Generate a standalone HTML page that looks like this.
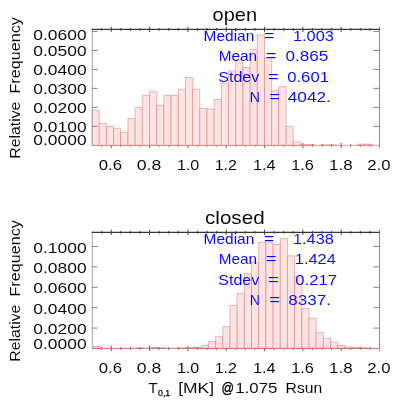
<!DOCTYPE html>
<html><head><meta charset="utf-8"><title>hist</title>
<style>
html,body{margin:0;padding:0;background:#fff;}
svg{display:block;will-change:transform;}
text{font-family:"Liberation Sans", sans-serif;stroke:#fff;stroke-width:0.05px;}
</style></head><body>
<svg width="407" height="407" viewBox="0 0 407 407">
<rect width="407" height="407" fill="#fff"/>
<g stroke="#505050" stroke-width="0.9">
<line x1="101.68" y1="144.0" x2="101.68" y2="146.8"/>
<line x1="111.26" y1="142.70000000000002" x2="111.26" y2="148.1"/>
<line x1="120.84" y1="144.0" x2="120.84" y2="146.8"/>
<line x1="130.42" y1="144.0" x2="130.42" y2="146.8"/>
<line x1="140.00" y1="144.0" x2="140.00" y2="146.8"/>
<line x1="149.58" y1="142.70000000000002" x2="149.58" y2="148.1"/>
<line x1="159.16" y1="144.0" x2="159.16" y2="146.8"/>
<line x1="168.74" y1="144.0" x2="168.74" y2="146.8"/>
<line x1="178.32" y1="144.0" x2="178.32" y2="146.8"/>
<line x1="187.90" y1="142.70000000000002" x2="187.90" y2="148.1"/>
<line x1="197.48" y1="144.0" x2="197.48" y2="146.8"/>
<line x1="207.06" y1="144.0" x2="207.06" y2="146.8"/>
<line x1="216.64" y1="144.0" x2="216.64" y2="146.8"/>
<line x1="226.22" y1="142.70000000000002" x2="226.22" y2="148.1"/>
<line x1="235.80" y1="144.0" x2="235.80" y2="146.8"/>
<line x1="245.38" y1="144.0" x2="245.38" y2="146.8"/>
<line x1="254.96" y1="144.0" x2="254.96" y2="146.8"/>
<line x1="264.54" y1="142.70000000000002" x2="264.54" y2="148.1"/>
<line x1="274.12" y1="144.0" x2="274.12" y2="146.8"/>
<line x1="283.70" y1="144.0" x2="283.70" y2="146.8"/>
<line x1="293.28" y1="144.0" x2="293.28" y2="146.8"/>
<line x1="302.86" y1="142.70000000000002" x2="302.86" y2="148.1"/>
<line x1="312.44" y1="144.0" x2="312.44" y2="146.8"/>
<line x1="322.02" y1="144.0" x2="322.02" y2="146.8"/>
<line x1="331.60" y1="144.0" x2="331.60" y2="146.8"/>
<line x1="341.18" y1="142.70000000000002" x2="341.18" y2="148.1"/>
<line x1="350.76" y1="144.0" x2="350.76" y2="146.8"/>
<line x1="360.34" y1="144.0" x2="360.34" y2="146.8"/>
<line x1="369.92" y1="144.0" x2="369.92" y2="146.8"/>
</g>
<g fill="#ffe4e4" stroke="rgba(205,70,70,0.36)" stroke-width="1">
<rect x="92.05" y="110.20" width="7.18" height="35.20"/>
<rect x="99.23" y="123.40" width="7.18" height="22.00"/>
<rect x="106.42" y="126.40" width="7.18" height="19.00"/>
<rect x="113.60" y="128.30" width="7.18" height="17.10"/>
<rect x="120.79" y="132.30" width="7.18" height="13.10"/>
<rect x="127.97" y="118.50" width="7.18" height="26.90"/>
<rect x="135.16" y="107.40" width="7.18" height="38.00"/>
<rect x="142.34" y="95.40" width="7.18" height="50.00"/>
<rect x="149.53" y="91.60" width="7.18" height="53.80"/>
<rect x="156.71" y="105.20" width="7.18" height="40.20"/>
<rect x="163.90" y="95.40" width="7.18" height="50.00"/>
<rect x="171.08" y="95.40" width="7.18" height="50.00"/>
<rect x="178.27" y="89.30" width="7.18" height="56.10"/>
<rect x="185.45" y="77.40" width="7.18" height="68.00"/>
<rect x="192.64" y="89.30" width="7.18" height="56.10"/>
<rect x="199.82" y="108.30" width="7.18" height="37.10"/>
<rect x="207.01" y="109.20" width="7.18" height="36.20"/>
<rect x="214.19" y="99.50" width="7.18" height="45.90"/>
<rect x="221.38" y="83.10" width="7.18" height="62.30"/>
<rect x="228.56" y="70.80" width="7.18" height="74.60"/>
<rect x="235.75" y="59.90" width="7.18" height="85.50"/>
<rect x="242.94" y="67.60" width="7.18" height="77.80"/>
<rect x="250.12" y="49.60" width="7.18" height="95.80"/>
<rect x="257.31" y="34.90" width="7.18" height="110.50"/>
<rect x="264.49" y="57.80" width="7.18" height="87.60"/>
<rect x="271.68" y="90.80" width="7.18" height="54.60"/>
<rect x="278.86" y="86.50" width="7.18" height="58.90"/>
<rect x="286.04" y="126.40" width="7.18" height="19.00"/>
<rect x="293.23" y="141.80" width="7.18" height="3.60"/>
<rect x="300.41" y="144.60" width="7.18" height="0.80" stroke="rgba(205,70,70,0.42)"/>
<rect x="307.60" y="144.60" width="7.18" height="0.80" stroke="rgba(205,70,70,0.42)"/>
<rect x="321.97" y="144.90" width="7.18" height="0.50" stroke="rgba(205,70,70,0.42)"/>
<rect x="329.15" y="144.90" width="7.18" height="0.50" stroke="rgba(205,70,70,0.42)"/>
<rect x="357.89" y="144.20" width="7.18" height="1.20" stroke="rgba(205,70,70,0.42)"/>
<rect x="365.08" y="144.20" width="7.18" height="1.20" stroke="rgba(205,70,70,0.42)"/>
</g>
<line x1="92.10" y1="145.4" x2="379.50" y2="145.4" stroke="rgb(218,130,130)" stroke-width="0.8"/>
<g stroke="#787878" stroke-width="0.9" fill="none">
<line x1="92.30" y1="28.4" x2="92.30" y2="146.4" stroke="#989898"/>
<line x1="379.50" y1="26.7" x2="379.50" y2="148.1" stroke="#828282"/>
<line x1="92.10" y1="126.4" x2="97.70" y2="126.4"/>
<line x1="379.50" y1="126.4" x2="373.30" y2="126.4"/>
<line x1="92.10" y1="107.4" x2="97.70" y2="107.4"/>
<line x1="379.50" y1="107.4" x2="373.30" y2="107.4"/>
<line x1="92.10" y1="88.4" x2="97.70" y2="88.4"/>
<line x1="379.50" y1="88.4" x2="373.30" y2="88.4"/>
<line x1="92.10" y1="69.4" x2="97.70" y2="69.4"/>
<line x1="379.50" y1="69.4" x2="373.30" y2="69.4"/>
<line x1="92.10" y1="50.4" x2="97.70" y2="50.4"/>
<line x1="379.50" y1="50.4" x2="373.30" y2="50.4"/>
<line x1="92.10" y1="31.4" x2="97.70" y2="31.4"/>
<line x1="379.50" y1="31.4" x2="373.30" y2="31.4"/>
</g>
<g stroke="#383838" stroke-width="1.2">
<line x1="91.80" y1="29.4" x2="379.80" y2="29.4"/>
</g>
<g stroke="#333" stroke-width="0.9">
<line x1="101.68" y1="28.0" x2="101.68" y2="30.799999999999997"/>
<line x1="111.26" y1="26.7" x2="111.26" y2="32.1"/>
<line x1="120.84" y1="28.0" x2="120.84" y2="30.799999999999997"/>
<line x1="130.42" y1="28.0" x2="130.42" y2="30.799999999999997"/>
<line x1="140.00" y1="28.0" x2="140.00" y2="30.799999999999997"/>
<line x1="149.58" y1="26.7" x2="149.58" y2="32.1"/>
<line x1="159.16" y1="28.0" x2="159.16" y2="30.799999999999997"/>
<line x1="168.74" y1="28.0" x2="168.74" y2="30.799999999999997"/>
<line x1="178.32" y1="28.0" x2="178.32" y2="30.799999999999997"/>
<line x1="187.90" y1="26.7" x2="187.90" y2="32.1"/>
<line x1="197.48" y1="28.0" x2="197.48" y2="30.799999999999997"/>
<line x1="207.06" y1="28.0" x2="207.06" y2="30.799999999999997"/>
<line x1="216.64" y1="28.0" x2="216.64" y2="30.799999999999997"/>
<line x1="226.22" y1="26.7" x2="226.22" y2="32.1"/>
<line x1="235.80" y1="28.0" x2="235.80" y2="30.799999999999997"/>
<line x1="245.38" y1="28.0" x2="245.38" y2="30.799999999999997"/>
<line x1="254.96" y1="28.0" x2="254.96" y2="30.799999999999997"/>
<line x1="264.54" y1="26.7" x2="264.54" y2="32.1"/>
<line x1="274.12" y1="28.0" x2="274.12" y2="30.799999999999997"/>
<line x1="283.70" y1="28.0" x2="283.70" y2="30.799999999999997"/>
<line x1="293.28" y1="28.0" x2="293.28" y2="30.799999999999997"/>
<line x1="302.86" y1="26.7" x2="302.86" y2="32.1"/>
<line x1="312.44" y1="28.0" x2="312.44" y2="30.799999999999997"/>
<line x1="322.02" y1="28.0" x2="322.02" y2="30.799999999999997"/>
<line x1="331.60" y1="28.0" x2="331.60" y2="30.799999999999997"/>
<line x1="341.18" y1="26.7" x2="341.18" y2="32.1"/>
<line x1="350.76" y1="28.0" x2="350.76" y2="30.799999999999997"/>
<line x1="360.34" y1="28.0" x2="360.34" y2="30.799999999999997"/>
<line x1="369.92" y1="28.0" x2="369.92" y2="30.799999999999997"/>
</g>
<text x="212.50" y="20.60" font-size="19.0" fill="#000" textLength="44.60" lengthAdjust="spacingAndGlyphs">open</text>
<text x="33.30" y="145.20" font-size="15.3" fill="#000" textLength="53.30" lengthAdjust="spacingAndGlyphs">0.0000</text>
<text x="33.30" y="132.40" font-size="15.3" fill="#000" textLength="53.30" lengthAdjust="spacingAndGlyphs">0.0100</text>
<text x="33.30" y="113.40" font-size="15.3" fill="#000" textLength="53.30" lengthAdjust="spacingAndGlyphs">0.0200</text>
<text x="33.30" y="94.40" font-size="15.3" fill="#000" textLength="53.30" lengthAdjust="spacingAndGlyphs">0.0300</text>
<text x="33.30" y="75.40" font-size="15.3" fill="#000" textLength="53.30" lengthAdjust="spacingAndGlyphs">0.0400</text>
<text x="33.30" y="56.40" font-size="15.3" fill="#000" textLength="53.30" lengthAdjust="spacingAndGlyphs">0.0500</text>
<text x="33.30" y="40.10" font-size="15.3" fill="#000" textLength="53.30" lengthAdjust="spacingAndGlyphs">0.0600</text>
<text x="98.80" y="170.30" font-size="15.3" fill="#000" textLength="23.30" lengthAdjust="spacingAndGlyphs">0.6</text>
<text x="136.70" y="170.30" font-size="15.3" fill="#000" textLength="24.50" lengthAdjust="spacingAndGlyphs">0.8</text>
<text x="176.90" y="170.30" font-size="15.3" fill="#000" textLength="22.40" lengthAdjust="spacingAndGlyphs">1.0</text>
<text x="214.70" y="170.30" font-size="15.3" fill="#000" textLength="22.20" lengthAdjust="spacingAndGlyphs">1.2</text>
<text x="252.90" y="170.30" font-size="15.3" fill="#000" textLength="22.70" lengthAdjust="spacingAndGlyphs">1.4</text>
<text x="291.20" y="170.30" font-size="15.3" fill="#000" textLength="22.70" lengthAdjust="spacingAndGlyphs">1.6</text>
<text x="329.10" y="170.30" font-size="15.3" fill="#000" textLength="23.50" lengthAdjust="spacingAndGlyphs">1.8</text>
<text x="367.30" y="170.30" font-size="15.3" fill="#000" textLength="23.30" lengthAdjust="spacingAndGlyphs">2.0</text>
<text transform="translate(20.4,158.80) rotate(-90)" font-size="15.3" textLength="57.2" lengthAdjust="spacingAndGlyphs">Relative</text>
<text transform="translate(20.4,93.50) rotate(-90)" font-size="15.3" textLength="76.3" lengthAdjust="spacingAndGlyphs">Frequency</text>
<text x="203.60" y="41.00" font-size="15.3" fill="#0000ff" textLength="50.70" lengthAdjust="spacingAndGlyphs">Median</text>
<text x="264.10" y="41.00" font-size="15.3" fill="#0000ff" textLength="10.30" lengthAdjust="spacingAndGlyphs">=</text>
<text x="292.90" y="41.00" font-size="15.3" fill="#0000ff" textLength="41.00" lengthAdjust="spacingAndGlyphs">1.003</text>
<text x="218.70" y="61.40" font-size="15.3" fill="#0000ff" textLength="38.40" lengthAdjust="spacingAndGlyphs">Mean</text>
<text x="265.80" y="61.40" font-size="15.3" fill="#0000ff" textLength="10.80" lengthAdjust="spacingAndGlyphs">=</text>
<text x="285.40" y="61.40" font-size="15.3" fill="#0000ff" textLength="43.00" lengthAdjust="spacingAndGlyphs">0.865</text>
<text x="218.30" y="82.00" font-size="15.3" fill="#0000ff" textLength="40.90" lengthAdjust="spacingAndGlyphs">Stdev</text>
<text x="268.00" y="82.00" font-size="15.3" fill="#0000ff" textLength="10.80" lengthAdjust="spacingAndGlyphs">=</text>
<text x="287.20" y="82.00" font-size="15.3" fill="#0000ff" textLength="41.80" lengthAdjust="spacingAndGlyphs">0.601</text>
<text x="249.80" y="102.40" font-size="15.3" fill="#0000ff" textLength="10.20" lengthAdjust="spacingAndGlyphs">N</text>
<text x="269.20" y="102.40" font-size="15.3" fill="#0000ff" textLength="10.80" lengthAdjust="spacingAndGlyphs">=</text>
<text x="287.80" y="102.40" font-size="15.3" fill="#0000ff" textLength="43.10" lengthAdjust="spacingAndGlyphs">4042.</text>
<g stroke="#505050" stroke-width="0.9">
<line x1="101.68" y1="347.0" x2="101.68" y2="349.79999999999995"/>
<line x1="111.26" y1="345.7" x2="111.26" y2="351.09999999999997"/>
<line x1="120.84" y1="347.0" x2="120.84" y2="349.79999999999995"/>
<line x1="130.42" y1="347.0" x2="130.42" y2="349.79999999999995"/>
<line x1="140.00" y1="347.0" x2="140.00" y2="349.79999999999995"/>
<line x1="149.58" y1="345.7" x2="149.58" y2="351.09999999999997"/>
<line x1="159.16" y1="347.0" x2="159.16" y2="349.79999999999995"/>
<line x1="168.74" y1="347.0" x2="168.74" y2="349.79999999999995"/>
<line x1="178.32" y1="347.0" x2="178.32" y2="349.79999999999995"/>
<line x1="187.90" y1="345.7" x2="187.90" y2="351.09999999999997"/>
<line x1="197.48" y1="347.0" x2="197.48" y2="349.79999999999995"/>
<line x1="207.06" y1="347.0" x2="207.06" y2="349.79999999999995"/>
<line x1="216.64" y1="347.0" x2="216.64" y2="349.79999999999995"/>
<line x1="226.22" y1="345.7" x2="226.22" y2="351.09999999999997"/>
<line x1="235.80" y1="347.0" x2="235.80" y2="349.79999999999995"/>
<line x1="245.38" y1="347.0" x2="245.38" y2="349.79999999999995"/>
<line x1="254.96" y1="347.0" x2="254.96" y2="349.79999999999995"/>
<line x1="264.54" y1="345.7" x2="264.54" y2="351.09999999999997"/>
<line x1="274.12" y1="347.0" x2="274.12" y2="349.79999999999995"/>
<line x1="283.70" y1="347.0" x2="283.70" y2="349.79999999999995"/>
<line x1="293.28" y1="347.0" x2="293.28" y2="349.79999999999995"/>
<line x1="302.86" y1="345.7" x2="302.86" y2="351.09999999999997"/>
<line x1="312.44" y1="347.0" x2="312.44" y2="349.79999999999995"/>
<line x1="322.02" y1="347.0" x2="322.02" y2="349.79999999999995"/>
<line x1="331.60" y1="347.0" x2="331.60" y2="349.79999999999995"/>
<line x1="341.18" y1="345.7" x2="341.18" y2="351.09999999999997"/>
<line x1="350.76" y1="347.0" x2="350.76" y2="349.79999999999995"/>
<line x1="360.34" y1="347.0" x2="360.34" y2="349.79999999999995"/>
<line x1="369.92" y1="347.0" x2="369.92" y2="349.79999999999995"/>
</g>
<g fill="#ffe4e4" stroke="rgba(205,70,70,0.36)" stroke-width="1">
<rect x="93.50" y="346.60" width="7.18" height="1.80" stroke="rgba(205,70,70,0.42)"/>
<rect x="136.61" y="347.80" width="7.18" height="0.60" stroke="rgba(205,70,70,0.42)"/>
<rect x="150.98" y="347.60" width="7.18" height="0.80" stroke="rgba(205,70,70,0.42)"/>
<rect x="158.16" y="347.60" width="7.18" height="0.80" stroke="rgba(205,70,70,0.42)"/>
<rect x="179.72" y="347.80" width="7.18" height="0.60" stroke="rgba(205,70,70,0.42)"/>
<rect x="186.91" y="347.60" width="7.18" height="0.80" stroke="rgba(205,70,70,0.42)"/>
<rect x="194.09" y="347.50" width="7.18" height="0.90" stroke="rgba(205,70,70,0.42)"/>
<rect x="201.27" y="345.40" width="7.18" height="3.00"/>
<rect x="208.46" y="341.60" width="7.18" height="6.80"/>
<rect x="215.64" y="336.70" width="7.18" height="11.70"/>
<rect x="222.83" y="326.70" width="7.18" height="21.70"/>
<rect x="230.01" y="305.50" width="7.18" height="42.90"/>
<rect x="237.20" y="293.60" width="7.18" height="54.80"/>
<rect x="244.38" y="273.60" width="7.18" height="74.80"/>
<rect x="251.57" y="262.20" width="7.18" height="86.20"/>
<rect x="258.75" y="242.30" width="7.18" height="106.10"/>
<rect x="265.94" y="242.30" width="7.18" height="106.10"/>
<rect x="273.12" y="244.40" width="7.18" height="104.00"/>
<rect x="280.31" y="238.50" width="7.18" height="109.90"/>
<rect x="287.50" y="255.80" width="7.18" height="92.60"/>
<rect x="294.68" y="277.00" width="7.18" height="71.40"/>
<rect x="301.87" y="308.30" width="7.18" height="40.10"/>
<rect x="309.05" y="318.40" width="7.18" height="30.00"/>
<rect x="316.24" y="332.60" width="7.18" height="15.80"/>
<rect x="323.42" y="338.40" width="7.18" height="10.00"/>
<rect x="330.61" y="342.10" width="7.18" height="6.30"/>
<rect x="337.79" y="345.50" width="7.18" height="2.90"/>
<rect x="344.98" y="347.00" width="7.18" height="1.40" stroke="rgba(205,70,70,0.42)"/>
<rect x="352.16" y="347.60" width="7.18" height="0.80" stroke="rgba(205,70,70,0.42)"/>
<rect x="359.34" y="347.90" width="7.18" height="0.50" stroke="rgba(205,70,70,0.42)"/>
</g>
<line x1="92.10" y1="348.4" x2="379.50" y2="348.4" stroke="rgb(208,100,100)" stroke-width="0.9"/>
<g stroke="#787878" stroke-width="0.9" fill="none">
<line x1="92.30" y1="231.3" x2="92.30" y2="349.4" stroke="#989898"/>
<line x1="379.50" y1="229.60000000000002" x2="379.50" y2="351.09999999999997" stroke="#828282"/>
<line x1="92.10" y1="328.1" x2="97.70" y2="328.1"/>
<line x1="379.50" y1="328.1" x2="373.30" y2="328.1"/>
<line x1="92.10" y1="307.7" x2="97.70" y2="307.7"/>
<line x1="379.50" y1="307.7" x2="373.30" y2="307.7"/>
<line x1="92.10" y1="287.3" x2="97.70" y2="287.3"/>
<line x1="379.50" y1="287.3" x2="373.30" y2="287.3"/>
<line x1="92.10" y1="266.9" x2="97.70" y2="266.9"/>
<line x1="379.50" y1="266.9" x2="373.30" y2="266.9"/>
<line x1="92.10" y1="246.5" x2="97.70" y2="246.5"/>
<line x1="379.50" y1="246.5" x2="373.30" y2="246.5"/>
</g>
<g stroke="#383838" stroke-width="1.2">
<line x1="91.80" y1="232.3" x2="379.80" y2="232.3"/>
</g>
<g stroke="#333" stroke-width="0.9">
<line x1="101.68" y1="230.9" x2="101.68" y2="233.70000000000002"/>
<line x1="111.26" y1="229.60000000000002" x2="111.26" y2="235.0"/>
<line x1="120.84" y1="230.9" x2="120.84" y2="233.70000000000002"/>
<line x1="130.42" y1="230.9" x2="130.42" y2="233.70000000000002"/>
<line x1="140.00" y1="230.9" x2="140.00" y2="233.70000000000002"/>
<line x1="149.58" y1="229.60000000000002" x2="149.58" y2="235.0"/>
<line x1="159.16" y1="230.9" x2="159.16" y2="233.70000000000002"/>
<line x1="168.74" y1="230.9" x2="168.74" y2="233.70000000000002"/>
<line x1="178.32" y1="230.9" x2="178.32" y2="233.70000000000002"/>
<line x1="187.90" y1="229.60000000000002" x2="187.90" y2="235.0"/>
<line x1="197.48" y1="230.9" x2="197.48" y2="233.70000000000002"/>
<line x1="207.06" y1="230.9" x2="207.06" y2="233.70000000000002"/>
<line x1="216.64" y1="230.9" x2="216.64" y2="233.70000000000002"/>
<line x1="226.22" y1="229.60000000000002" x2="226.22" y2="235.0"/>
<line x1="235.80" y1="230.9" x2="235.80" y2="233.70000000000002"/>
<line x1="245.38" y1="230.9" x2="245.38" y2="233.70000000000002"/>
<line x1="254.96" y1="230.9" x2="254.96" y2="233.70000000000002"/>
<line x1="264.54" y1="229.60000000000002" x2="264.54" y2="235.0"/>
<line x1="274.12" y1="230.9" x2="274.12" y2="233.70000000000002"/>
<line x1="283.70" y1="230.9" x2="283.70" y2="233.70000000000002"/>
<line x1="293.28" y1="230.9" x2="293.28" y2="233.70000000000002"/>
<line x1="302.86" y1="229.60000000000002" x2="302.86" y2="235.0"/>
<line x1="312.44" y1="230.9" x2="312.44" y2="233.70000000000002"/>
<line x1="322.02" y1="230.9" x2="322.02" y2="233.70000000000002"/>
<line x1="331.60" y1="230.9" x2="331.60" y2="233.70000000000002"/>
<line x1="341.18" y1="229.60000000000002" x2="341.18" y2="235.0"/>
<line x1="350.76" y1="230.9" x2="350.76" y2="233.70000000000002"/>
<line x1="360.34" y1="230.9" x2="360.34" y2="233.70000000000002"/>
<line x1="369.92" y1="230.9" x2="369.92" y2="233.70000000000002"/>
</g>
<text x="205.00" y="223.50" font-size="19.0" fill="#000" textLength="59.60" lengthAdjust="spacingAndGlyphs">closed</text>
<text x="33.30" y="349.10" font-size="15.3" fill="#000" textLength="53.30" lengthAdjust="spacingAndGlyphs">0.0000</text>
<text x="33.30" y="334.10" font-size="15.3" fill="#000" textLength="53.30" lengthAdjust="spacingAndGlyphs">0.0200</text>
<text x="33.30" y="313.70" font-size="15.3" fill="#000" textLength="53.30" lengthAdjust="spacingAndGlyphs">0.0400</text>
<text x="33.30" y="293.30" font-size="15.3" fill="#000" textLength="53.30" lengthAdjust="spacingAndGlyphs">0.0600</text>
<text x="33.30" y="272.90" font-size="15.3" fill="#000" textLength="53.30" lengthAdjust="spacingAndGlyphs">0.0800</text>
<text x="33.30" y="252.50" font-size="15.3" fill="#000" textLength="53.30" lengthAdjust="spacingAndGlyphs">0.1000</text>
<text x="98.80" y="373.30" font-size="15.3" fill="#000" textLength="23.30" lengthAdjust="spacingAndGlyphs">0.6</text>
<text x="136.70" y="373.30" font-size="15.3" fill="#000" textLength="24.50" lengthAdjust="spacingAndGlyphs">0.8</text>
<text x="176.90" y="373.30" font-size="15.3" fill="#000" textLength="22.40" lengthAdjust="spacingAndGlyphs">1.0</text>
<text x="214.70" y="373.30" font-size="15.3" fill="#000" textLength="22.20" lengthAdjust="spacingAndGlyphs">1.2</text>
<text x="252.90" y="373.30" font-size="15.3" fill="#000" textLength="22.70" lengthAdjust="spacingAndGlyphs">1.4</text>
<text x="291.20" y="373.30" font-size="15.3" fill="#000" textLength="22.70" lengthAdjust="spacingAndGlyphs">1.6</text>
<text x="329.10" y="373.30" font-size="15.3" fill="#000" textLength="23.50" lengthAdjust="spacingAndGlyphs">1.8</text>
<text x="367.30" y="373.30" font-size="15.3" fill="#000" textLength="23.30" lengthAdjust="spacingAndGlyphs">2.0</text>
<text transform="translate(20.4,361.80) rotate(-90)" font-size="15.3" textLength="57.2" lengthAdjust="spacingAndGlyphs">Relative</text>
<text transform="translate(20.4,296.50) rotate(-90)" font-size="15.3" textLength="76.3" lengthAdjust="spacingAndGlyphs">Frequency</text>
<text x="203.60" y="243.90" font-size="15.3" fill="#0000ff" textLength="50.70" lengthAdjust="spacingAndGlyphs">Median</text>
<text x="264.10" y="243.90" font-size="15.3" fill="#0000ff" textLength="10.30" lengthAdjust="spacingAndGlyphs">=</text>
<text x="292.90" y="243.90" font-size="15.3" fill="#0000ff" textLength="41.00" lengthAdjust="spacingAndGlyphs">1.438</text>
<text x="218.70" y="264.30" font-size="15.3" fill="#0000ff" textLength="38.40" lengthAdjust="spacingAndGlyphs">Mean</text>
<text x="265.80" y="264.30" font-size="15.3" fill="#0000ff" textLength="10.80" lengthAdjust="spacingAndGlyphs">=</text>
<text x="294.80" y="264.30" font-size="15.3" fill="#0000ff" textLength="41.00" lengthAdjust="spacingAndGlyphs">1.424</text>
<text x="218.30" y="284.90" font-size="15.3" fill="#0000ff" textLength="40.90" lengthAdjust="spacingAndGlyphs">Stdev</text>
<text x="268.00" y="284.90" font-size="15.3" fill="#0000ff" textLength="10.80" lengthAdjust="spacingAndGlyphs">=</text>
<text x="295.20" y="284.90" font-size="15.3" fill="#0000ff" textLength="42.00" lengthAdjust="spacingAndGlyphs">0.217</text>
<text x="249.80" y="305.30" font-size="15.3" fill="#0000ff" textLength="10.20" lengthAdjust="spacingAndGlyphs">N</text>
<text x="269.20" y="305.30" font-size="15.3" fill="#0000ff" textLength="10.80" lengthAdjust="spacingAndGlyphs">=</text>
<text x="288.20" y="305.30" font-size="15.3" fill="#0000ff" textLength="42.70" lengthAdjust="spacingAndGlyphs">8337.</text>
<text x="148.50" y="392.80" font-size="15.3" fill="#000" textLength="9.10" lengthAdjust="spacingAndGlyphs">T</text>
<text x="158.00" y="396.00" font-size="9.6" fill="#000" textLength="12.20" lengthAdjust="spacingAndGlyphs" style="stroke:#000;stroke-width:0.25px">0,1</text>
<text x="178.20" y="392.80" font-size="15.3" fill="#000" textLength="35.80" lengthAdjust="spacingAndGlyphs">[MK]</text>
<text x="221.40" y="392.80" font-size="15.3" fill="#000" textLength="12.50" lengthAdjust="spacingAndGlyphs" style="stroke:#000;stroke-width:0.38px">@</text>
<text x="235.20" y="392.80" font-size="15.3" fill="#000" textLength="42.20" lengthAdjust="spacingAndGlyphs">1.075</text>
<text x="285.60" y="392.80" font-size="15.3" fill="#000" textLength="36.60" lengthAdjust="spacingAndGlyphs">Rsun</text>
</svg>
</body></html>
